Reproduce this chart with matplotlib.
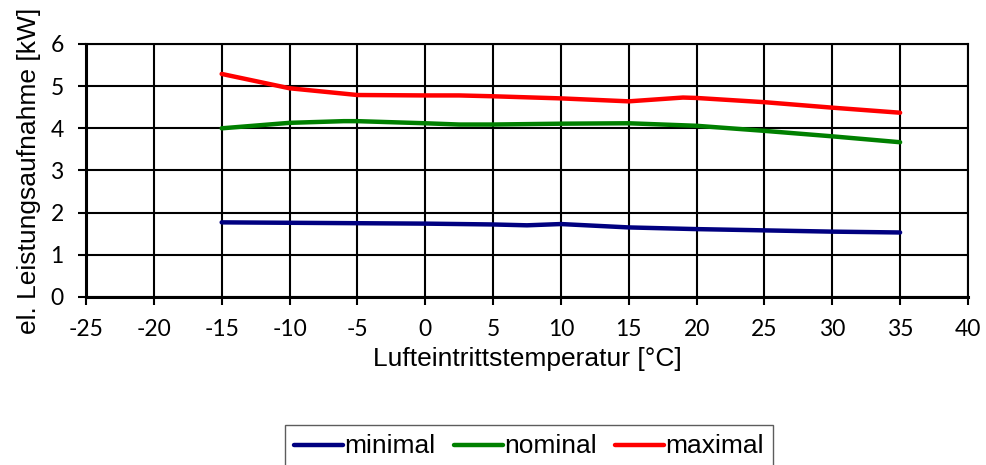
import matplotlib
matplotlib.use("Agg")
import matplotlib.pyplot as plt

plt.rcParams["axes.unicode_minus"] = False
plt.rcParams["font.family"] = ["Lato", "DejaVu Sans"]
plt.rcParams["xtick.labelsize"] = 16.5
plt.rcParams["ytick.labelsize"] = 16.5

# values
temp_min = [-15, -10, -5, 0, 5, 7.5, 10, 15, 20, 25, 30, 35]
p_min = [1.77, 1.76, 1.75, 1.74, 1.72, 1.70, 1.73, 1.65, 1.61, 1.58, 1.55, 1.53]

temp_nom = [-15, -10, -6, -5, 0, 2.5, 5, 10, 15, 20, 25, 30, 35]
p_nom = [4.00, 4.13, 4.17, 4.17, 4.12, 4.09, 4.09, 4.11, 4.12, 4.06, 3.94, 3.81, 3.67]

temp_max = [-15, -10, -5, 0, 2.5, 5, 10, 15, 19, 20, 25, 30, 35]
p_max = [5.29, 4.95, 4.79, 4.78, 4.78, 4.76, 4.71, 4.64, 4.73, 4.72, 4.62, 4.49, 4.37]

series_names = ["minimal", "nominal", "maximal"]
series_colors = ["#000080", "#008000", "#ff0000"]

fig = plt.figure(figsize=(9.87, 4.65), dpi=100)
ax = fig.add_axes([0.0871, 0.3613, 0.8936, 0.5441])

for t, p, name, col in zip([temp_min, temp_nom, temp_max], [p_min, p_nom, p_max],
                           series_names, series_colors):
    ax.plot(t, p, color=col, lw=3.2, label=name, solid_capstyle="round")

ax.set_xlim(-25, 40)
ax.set_ylim(0, 6)
ax.set_xticks(range(-25, 41, 5))
ax.set_yticks(range(0, 7))
ax.grid(True, color="black", lw=1.5)
ax.set_axisbelow(True)
for s in ax.spines.values():
    s.set_color("black")
    s.set_linewidth(1.5)
ax.spines["left"].set_linewidth(2.2)
ax.spines["bottom"].set_linewidth(2.2)
ax.tick_params(direction="out", length=6, width=1.5, colors="black")
ax.tick_params(axis="x", pad=10)
ax.tick_params(axis="y", pad=10)

ax.set_xlabel("Lufteintrittstemperatur [°C]", fontsize=19,
              family="Liberation Sans", labelpad=5)
ax.set_ylabel("el. Leistungsaufnahme [kW]", fontsize=19,
              family="Liberation Sans", labelpad=7)

leg = fig.legend(loc="upper center", bbox_to_anchor=(0.536, 0.114), ncol=3,
                 frameon=True, fancybox=False, edgecolor="#333333",
                 prop={"family": "Liberation Sans", "size": 19},
                 handlelength=1.85, handletextpad=0.05, columnspacing=0.7,
                 borderpad=0.35, handleheight=0.5)
leg.get_frame().set_linewidth(1.0)

fig.savefig("out.png", dpi=100)
